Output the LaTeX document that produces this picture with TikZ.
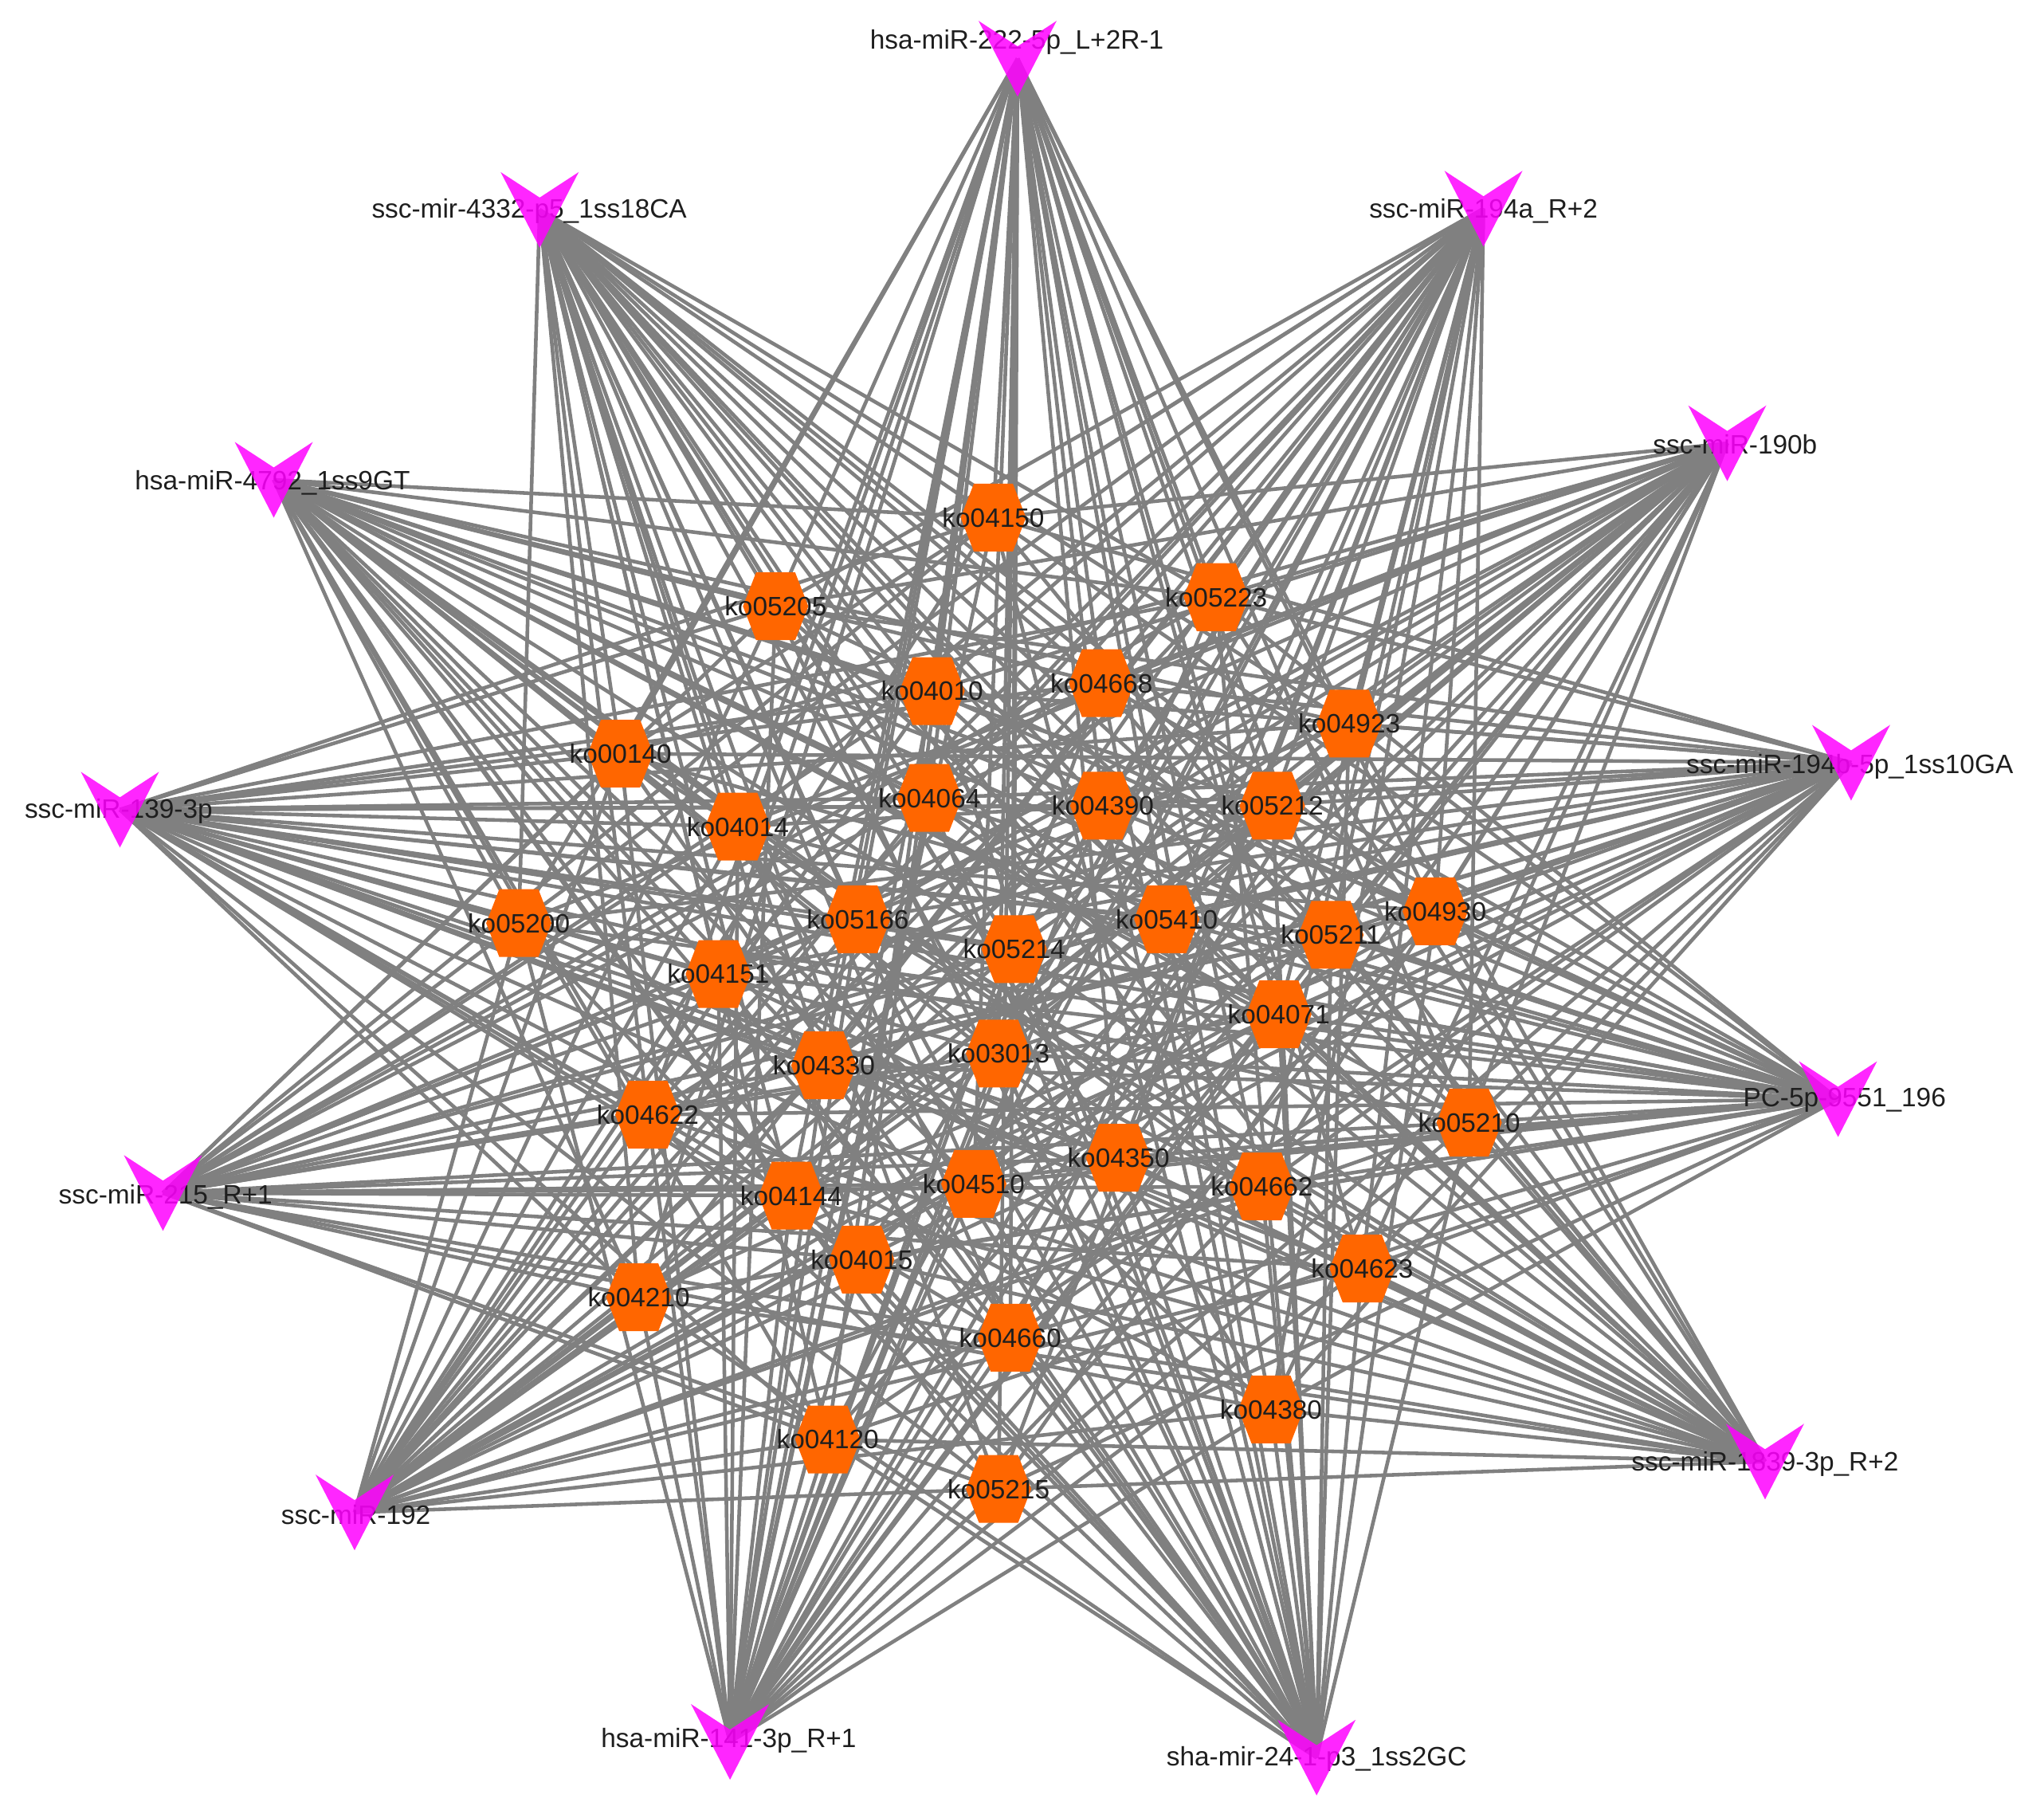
\documentclass[tikz,border=0pt]{standalone}
\usepackage{fontspec}
\setmainfont{Liberation Sans}
\usetikzlibrary{backgrounds}
\definecolor{edgegray}{RGB}{128,128,128}
\definecolor{komark}{RGB}{255,102,0}
\definecolor{mirmag}{RGB}{255,0,255}
\definecolor{txt}{RGB}{30,30,30}
\begin{document}
\begin{tikzpicture}[x=0.016358cm,y=-0.016358cm,
  lbl/.style={font=\fontsize{9.5}{11}\selectfont, text=txt, inner sep=0pt},
  mirv/.style={minimum width=0.98cm, minimum height=0.95cm, inner sep=0pt,
    path picture={\fill[mirmag, fill opacity=0.85] (path picture bounding box.north west)
      -- ([yshift=-0.32cm]path picture bounding box.north)
      -- (path picture bounding box.north east)
      -- (path picture bounding box.south) -- cycle;}},
  kohex/.style={minimum width=0.82cm, minimum height=0.85cm, inner sep=0pt,
    font=\fontsize{9.5}{11}\selectfont, text=txt,
    path picture={\fill[komark] ([xshift=-0.41cm]path picture bounding box.center)
      -- ([xshift=-0.245cm,yshift=0.425cm]path picture bounding box.center)
      -- ([xshift=0.245cm,yshift=0.425cm]path picture bounding box.center)
      -- ([xshift=0.41cm]path picture bounding box.center)
      -- ([xshift=0.245cm,yshift=-0.425cm]path picture bounding box.center)
      -- ([xshift=-0.245cm,yshift=-0.425cm]path picture bounding box.center) -- cycle;}},
  link/.style={draw=edgegray, line width=1.3pt}]
\useasboundingbox (0,0) rectangle (1568,1394);
% miRNA labels and markers
\foreach \n/\x/\y/\lx/\ly/\t in {
  1/780.6/45/780/32/hsa-miR-222-5p\_L+2R-1,
  2/1138/160/1138/162/ssc-miR-194a\_R+2,
  3/1325/340/1331/341/ssc-miR-190b,
  4/1420/585/1419/588/ssc-miR-194b-5p\_1ss10GA,
  5/1410/843/1415/844/PC-5p-9551\_196,
  6/1354/1121/1354/1123/ssc-miR-1839-3p\_R+2,
  7/1010/1348/1010/1349/sha-mir-24-1-p3\_1ss2GC,
  8/560/1336/559/1335/hsa-miR-141-3p\_R+1,
  9/272/1160/273/1162/ssc-miR-192,
  10/125/915/127/918/ssc-miR-215\_R+1,
  11/92/621/91/622/ssc-miR-139-3p,
  12/210/368/209/370/hsa-miR-4792\_1ss9GT,
  13/414/161/406/162/ssc-mir-4332-p5\_1ss18CA}{
  \node[lbl] (ml\n) at (\lx,\ly) {\t};
  \node[mirv] (m\n) at (\x,\y) {};
}
% pathway nodes
\foreach \n/\x/\y/\t in {
  1/762/397/ko04150, 2/595/465/ko05205, 3/933/458/ko05223, 4/715/530/ko04010,
  5/845/524/ko04668, 6/1035/555/ko04923, 7/476/578/ko00140, 8/566/634/ko04014,
  9/713/612/ko04064, 10/846/618/ko04390, 11/976/618/ko05212, 12/398/708/ko05200,
  13/658/705/ko05166, 14/778/728/ko05214, 15/895/705/ko05410, 16/1021/717/ko05211,
  17/1101/699/ko04930, 18/551/747/ko04151, 19/981/778/ko04071, 20/632/817/ko04330,
  21/766/808/ko03013, 22/497/855/ko04622, 23/1127/861/ko05210, 24/858/888/ko04350,
  25/968/910/ko04662, 26/607/917/ko04144, 27/747/908/ko04510, 28/661/966/ko04015,
  29/1045/973/ko04623, 30/490/995/ko04210, 31/775/1026/ko04660, 32/975/1081/ko04380,
  33/635/1104/ko04120, 34/766/1142/ko05215}{
  \node[kohex] (k\n) at (\x,\y) {\t};
}
\begin{pgfonlayer}{background}
\fill[white] (0,0) rectangle (1568,1394);
\foreach \i in {1,...,13}{
  \foreach \j in {1,...,34}{
    \draw[link] (m\i.center) -- (k\j.center);
  }
}
\end{pgfonlayer}
\end{tikzpicture}
\end{document}
